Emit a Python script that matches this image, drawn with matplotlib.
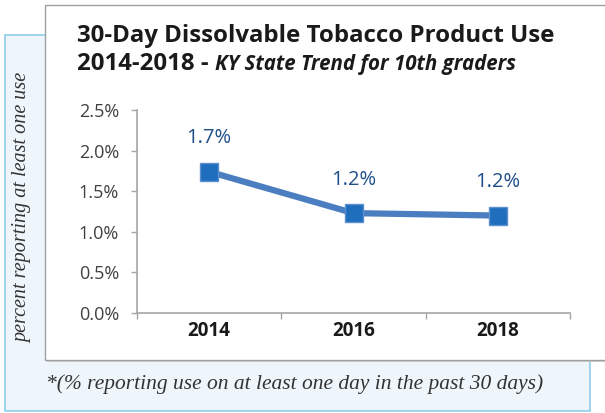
import matplotlib
matplotlib.use("Agg")
import matplotlib.pyplot as plt
from matplotlib.patches import Rectangle

years = ["2014", "2016", "2018"]
values = [1.74, 1.23, 1.20]
labels = ["1.7%", "1.2%", "1.2%"]
yticks = [0.0, 0.5, 1.0, 1.5, 2.0, 2.5]
ytick_labels = ["0.0%", "0.5%", "1.0%", "1.5%", "2.0%", "2.5%"]

W, H = 605, 413
fig = plt.figure(figsize=(W / 100, H / 100), dpi=100)
fig.patch.set_facecolor("white")

def fx(px):
    return px / W

def fy(py):
    return 1 - py / H

SANS = ["Open Sans", "DejaVu Sans"]
SERIF = ["Liberation Serif", "DejaVu Serif"]

# light blue panel
fig.add_artist(Rectangle((fx(5), fy(411)), fx(590) - fx(5), fy(35) - fy(411),
                         transform=fig.transFigure, facecolor="#EEF5FB",
                         edgecolor="#8FCDED", linewidth=1.2, zorder=0))
# shadow of white box
fig.add_artist(Rectangle((fx(47), fy(362)), fx(606) - fx(47), fy(7) - fy(362),
                         transform=fig.transFigure, facecolor="#D0D0D0",
                         edgecolor="none", zorder=1))
# white box
fig.add_artist(Rectangle((fx(45), fy(360)), fx(608) - fx(45), fy(5) - fy(360),
                         transform=fig.transFigure, facecolor="white",
                         edgecolor="#A0A0A0", linewidth=1.0, zorder=2))

ax = fig.add_axes([fx(137), fy(313), fx(570) - fx(137), fy(110) - fy(313)])
ax.set_zorder(3)
ax.patch.set_alpha(0)

x = list(range(len(years)))
ax.plot(x, values, color="#4A7EC0", linewidth=4.5, marker="s", markersize=13,
        markerfacecolor="#1F6EBD", markeredgecolor="#5B8FD0", markeredgewidth=1.0,
        solid_capstyle="round", zorder=3)
for xi, v, lab in zip(x, values, labels):
    ax.annotate(lab, (xi, v), xytext=(0, 17), textcoords="offset points",
                ha="center", va="bottom", fontsize=14.5, color="#1F4E89",
                family=SANS)

ax.set_xlim(-0.5, 2.5)
ax.set_ylim(0, 2.5)
ax.set_yticks(yticks)
ax.set_yticklabels(ytick_labels, family=SANS, fontsize=13, color="#404040")
ax.set_xticks(x)
ax.set_xticklabels(years, family=SANS, fontsize=13.5, fontweight="bold", color="#1a1a1a")
ax.set_xticks([-0.5, 0.5, 1.5, 2.5], minor=True)
ax.tick_params(axis="x", which="major", length=0, pad=6)
ax.tick_params(axis="x", which="minor", length=4, color="#A6A6A6", width=1)
ax.tick_params(axis="y", length=4, color="#A6A6A6", width=1, pad=9)
for s in ["top", "right"]:
    ax.spines[s].set_visible(False)
for s in ["left", "bottom"]:
    ax.spines[s].set_color("#A6A6A6")
    ax.spines[s].set_linewidth(1.2)

# title
fig.text(fx(77), fy(42), "30-Day Dissolvable Tobacco Product Use", family=SANS,
         fontsize=17.3, fontweight="bold", color="#1a1a1a", va="baseline", ha="left", zorder=5)
t1 = fig.text(fx(77), fy(70), "2014-2018 - ", family=SANS, fontsize=17.3,
              fontweight="bold", color="#1a1a1a", va="baseline", ha="left", zorder=5)
fig.canvas.draw()
bb = t1.get_window_extent()
fig.text(bb.x1 / W, fy(70), "KY State Trend for 10th graders", family=SANS,
         fontsize=14.8, fontweight="bold", style="italic", color="#1a1a1a",
         va="baseline", ha="left", zorder=5)

# y label
fig.text(fx(23), fy(208), "percent reporting at least one use", family=SERIF,
         style="italic", fontsize=14.5, color="#333333", rotation=90,
         ha="center", va="center", zorder=5)

# footnote
fig.text(fx(46), fy(384), "*(% reporting use on at least one day in the past 30 days)",
         family=SERIF, style="italic", fontsize=15.5, color="#333333",
         ha="left", va="center", zorder=5)

fig.savefig("out.png", dpi=100)
